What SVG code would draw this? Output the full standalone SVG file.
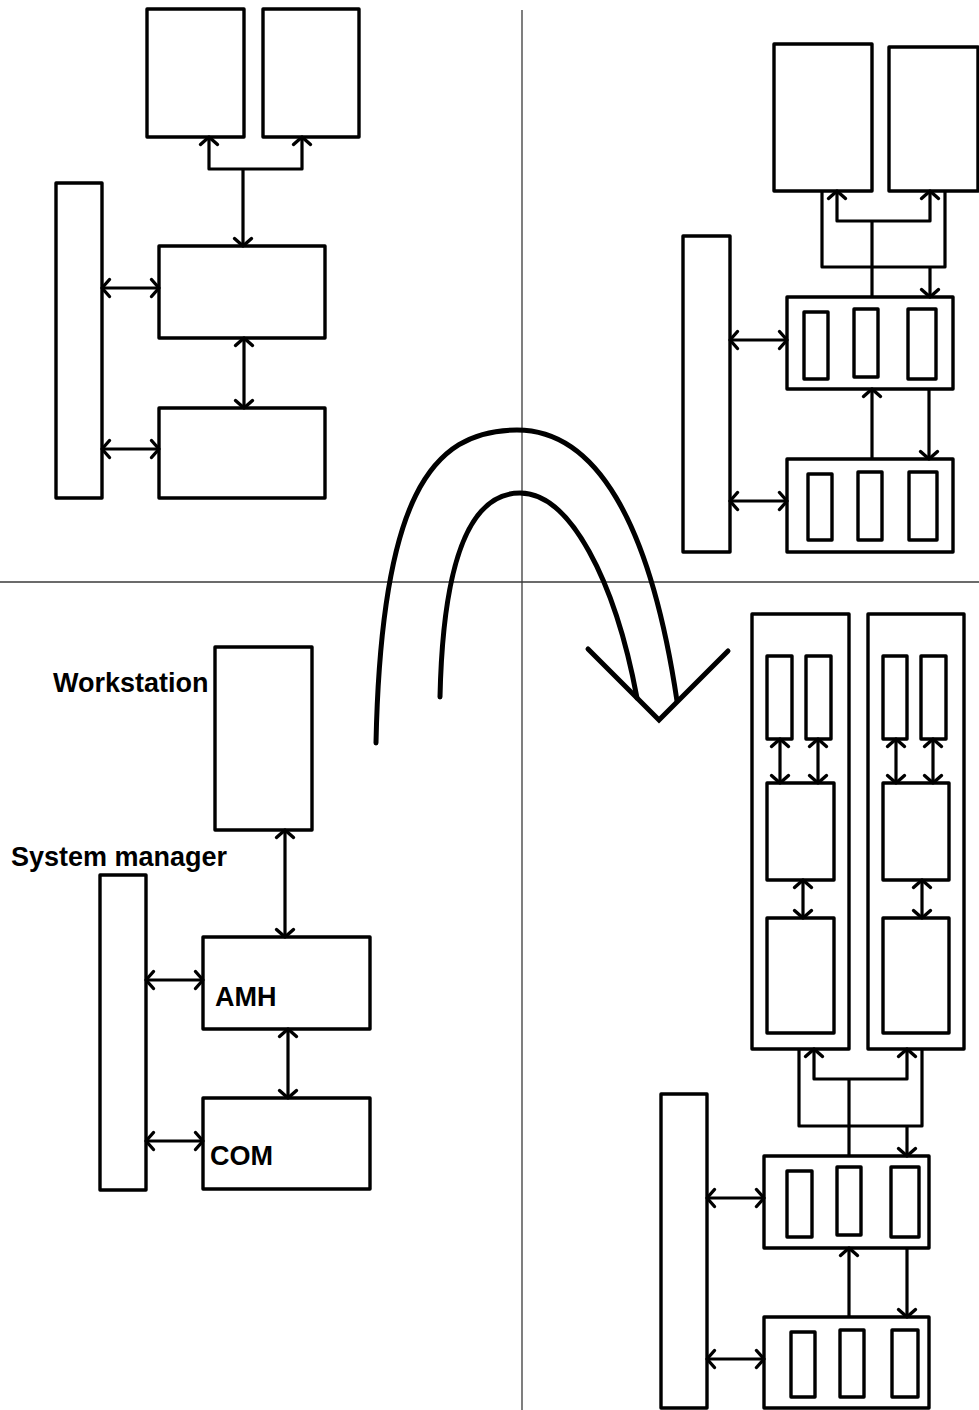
<svg xmlns="http://www.w3.org/2000/svg" width="979" height="1410" viewBox="0 0 979 1410">
<style>
.b{fill:#fff;stroke:#000;stroke-width:3.4;stroke-linejoin:round}
.c{fill:none;stroke:#000;stroke-width:3.2;stroke-linejoin:round}
.a{marker-end:url(#ah)}
.d{marker-start:url(#ah);marker-end:url(#ah)}
.q{fill:none;stroke:#3a3a3a;stroke-width:1.3}
.big{fill:none;stroke:#000;stroke-width:5;stroke-linecap:round;stroke-linejoin:miter}
.t{font-family:"Liberation Sans",Arial,sans-serif;font-weight:bold;font-size:27px;fill:#000}
</style>
<defs>
<marker id="ah" markerUnits="userSpaceOnUse" markerWidth="20" markerHeight="20" viewBox="-10 -10 20 20" refX="0" refY="0" orient="auto-start-reverse" overflow="visible">
<path d="M-7.5,-8.5 L0,0 L-7.5,8.5" fill="none" stroke="#000" stroke-width="3.4" stroke-linecap="round" stroke-linejoin="round"/>
</marker>
</defs>
<rect width="979" height="1410" fill="#fff"/>
<g id="quadrants">
<line class="q" x1="522" y1="10" x2="522" y2="1410"/>
<line class="q" x1="0" y1="582" x2="979" y2="582"/>
</g>
<g id="tl">
<rect id="tl-a" class="b" x="147" y="9" width="97" height="128"/>
<rect id="tl-b" class="b" x="263" y="9" width="96" height="128"/>
<rect id="tl-bar" class="b" x="56" y="183" width="46" height="315"/>
<rect id="tl-c" class="b" x="159" y="246" width="166" height="92"/>
<rect id="tl-d" class="b" x="159" y="408" width="166" height="90"/>
</g>
<g id="tr">
<rect id="tr-e" class="b" x="774" y="44" width="98" height="147"/>
<rect id="tr-f" class="b" x="889" y="47" width="89" height="144"/>
<rect id="tr-bar" class="b" x="683" y="236" width="47" height="316"/>
<g id="tr-g">
<rect class="b" x="787" y="297" width="166" height="92"/>
<rect class="b" x="804" y="312" width="24" height="67"/>
<rect class="b" x="854" y="309" width="24" height="68"/>
<rect class="b" x="908" y="309" width="28" height="70"/>
</g>
<g id="tr-h">
<rect class="b" x="787" y="459" width="166" height="93"/>
<rect class="b" x="808" y="474" width="24" height="66"/>
<rect class="b" x="858" y="472" width="24" height="68"/>
<rect class="b" x="909" y="472" width="28" height="68"/>
</g>
</g>
<g id="bl">
<g id="ws"><rect class="b" x="215" y="647" width="97" height="183"/><text class="t" x="53" y="692">Workstation</text></g>
<g id="sm"><rect class="b" x="100" y="875" width="46" height="315"/><text class="t" x="11" y="866">System manager</text></g>
<g id="amh"><rect class="b" x="203" y="937" width="167" height="92"/><text class="t" x="215" y="1006">AMH</text></g>
<g id="com"><rect class="b" x="203" y="1098" width="167" height="91"/><text class="t" x="210" y="1165">COM</text></g>
</g>
<g id="br">
<g id="br-i">
<rect class="b" x="752" y="614" width="97" height="435"/>
<rect class="b" x="767" y="656" width="25" height="83"/>
<rect class="b" x="806" y="656" width="25" height="83"/>
<rect class="b" x="767" y="783" width="67" height="97"/>
<rect class="b" x="767" y="918" width="67" height="115"/>
</g>
<g id="br-j">
<rect class="b" x="868" y="614" width="96" height="435"/>
<rect class="b" x="883" y="656" width="24" height="83"/>
<rect class="b" x="921" y="656" width="25" height="83"/>
<rect class="b" x="883" y="783" width="66" height="97"/>
<rect class="b" x="883" y="918" width="66" height="115"/>
</g>
<rect id="br-bar" class="b" x="661" y="1094" width="46" height="314"/>
<g id="br-k">
<rect class="b" x="764" y="1156" width="165" height="92"/>
<rect class="b" x="787" y="1171" width="25" height="66"/>
<rect class="b" x="837" y="1167" width="24" height="68"/>
<rect class="b" x="891" y="1167" width="28" height="70"/>
</g>
<g id="br-l">
<rect class="b" x="764" y="1317" width="165" height="91"/>
<rect class="b" x="791" y="1332" width="24" height="65"/>
<rect class="b" x="840" y="1330" width="24" height="67"/>
<rect class="b" x="892" y="1330" width="26" height="67"/>
</g>
</g>
<g id="connectors">
<path class="c d" d="M209,137 L209,169 L302,169 L302,137"/>
<path class="c a" d="M243,169 L243,246"/>
<path class="c d" d="M244,338 L244,408"/>
<path class="c d" d="M102,288 L159,288"/>
<path class="c d" d="M102,449 L159,449"/>

<path class="c d" d="M837,191 L837,221 L930,221 L930,191"/>
<path class="c" d="M872,221 L872,297"/>
<path class="c" d="M822,191 L822,267 L945,267 L945,191"/>
<path class="c a" d="M930,267 L930,297"/>
<path class="c a" d="M872,459 L872,389"/>
<path class="c a" d="M929,389 L929,459"/>
<path class="c d" d="M730,340 L787,340"/>
<path class="c d" d="M730,501 L787,501"/>

<path class="c d" d="M285,830 L285,937"/>
<path class="c d" d="M288,1029 L288,1098"/>
<path class="c d" d="M146,980 L203,980"/>
<path class="c d" d="M146,1141 L203,1141"/>

<path class="c d" d="M780,739 L780,783"/>
<path class="c d" d="M818,739 L818,783"/>
<path class="c d" d="M896,739 L896,783"/>
<path class="c d" d="M933,739 L933,783"/>
<path class="c d" d="M803,880 L803,918"/>
<path class="c d" d="M922,880 L922,918"/>
<path class="c d" d="M814,1049 L814,1079 L907,1079 L907,1049"/>
<path class="c" d="M849,1079 L849,1156"/>
<path class="c" d="M799,1049 L799,1126 L922,1126 L922,1049"/>
<path class="c a" d="M907,1126 L907,1156"/>
<path class="c a" d="M849,1317 L849,1248"/>
<path class="c a" d="M907,1248 L907,1317"/>
<path class="c d" d="M707,1198 L764,1198"/>
<path class="c d" d="M707,1359 L764,1359"/>
</g>
<g id="transition">
<path class="big" d="M376,743 C381,500 430,430 517,430 C595,430 650,520 677,701"/>
<path class="big" d="M440,697 C443,560 470,493 520,493 C570,493 615,580 637,698"/>
<path class="big" d="M588,649 L659,720 L728,651"/>
</g>
</svg>
